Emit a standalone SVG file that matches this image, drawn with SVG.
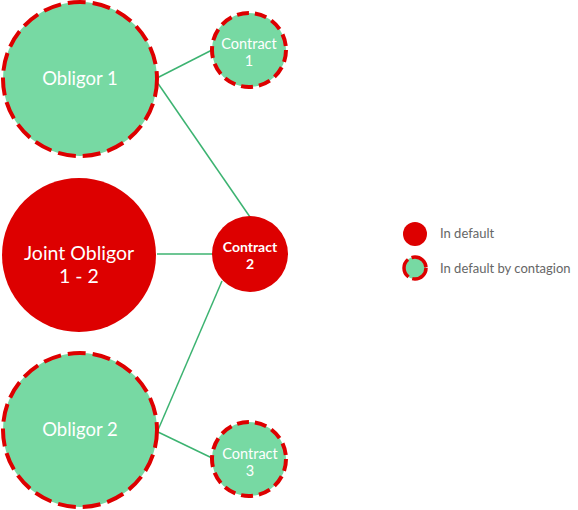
<svg xmlns="http://www.w3.org/2000/svg" width="578" height="510" viewBox="0 0 578 510">
<style>
.g{fill:#77d9a3}
.big{stroke:#dd0000;stroke-width:4;stroke-dasharray:18 7}
.sm{stroke:#dd0000;stroke-width:4;stroke-dasharray:12 6}
.r{fill:#dd0000}
.t{font-family:Lato,"Open Sans",sans-serif;fill:#ffffff;text-anchor:middle}
.l{font-family:Lato,"Open Sans",sans-serif;fill:#666666;font-size:13px}
.c{stroke:#3cb371;stroke-width:1.5;fill:none}
</style>
<rect width="578" height="510" fill="#ffffff"/>
<g id="connectors">
<line class="c" x1="157" y1="78" x2="212" y2="50"/>
<line class="c" x1="157" y1="82" x2="250" y2="217"/>
<line class="c" x1="157" y1="254" x2="212" y2="254"/>
<line class="c" x1="158" y1="430" x2="222" y2="281"/>
<line class="c" x1="158" y1="432" x2="212" y2="458"/>
</g>
<g id="obligor1">
<circle class="g big" cx="80" cy="79" r="77"/>
<text class="t" x="80" y="85" font-size="18.5">Obligor 1</text>
</g>
<g id="contract1">
<circle class="g sm" cx="249" cy="50" r="37"/>
<text class="t" x="249" y="49" font-size="14.5">Contract</text>
<text class="t" x="249" y="66" font-size="14.5">1</text>
</g>
<g id="joint">
<circle class="r" cx="79" cy="255" r="77"/>
<text class="t" x="79" y="260" font-size="19.5">Joint Obligor</text>
<text class="t" x="79" y="283" font-size="19.5">1 - 2</text>
</g>
<g id="contract2">
<circle class="r" cx="250" cy="254" r="38"/>
<text class="t" x="250" y="252" font-size="14" font-weight="bold">Contract</text>
<text class="t" x="250" y="269" font-size="14" font-weight="bold">2</text>
</g>
<g id="obligor2">
<circle class="g big" cx="80" cy="430" r="77"/>
<text class="t" x="80" y="436" font-size="18.5">Obligor 2</text>
</g>
<g id="contract3">
<circle class="g sm" cx="249" cy="459" r="37"/>
<text class="t" x="250" y="459" font-size="14.5">Contract</text>
<text class="t" x="250" y="476" font-size="14.5">3</text>
</g>
<g id="legend">
<circle class="r" cx="415" cy="234" r="12"/>
<text class="l" x="440" y="238">In default</text>
<circle class="g" cx="415" cy="268" r="11" stroke="#dd0000" stroke-width="3.5" stroke-dasharray="20 4"/>
<text class="l" x="440" y="273">In default by contagion</text>
</g>
</svg>
